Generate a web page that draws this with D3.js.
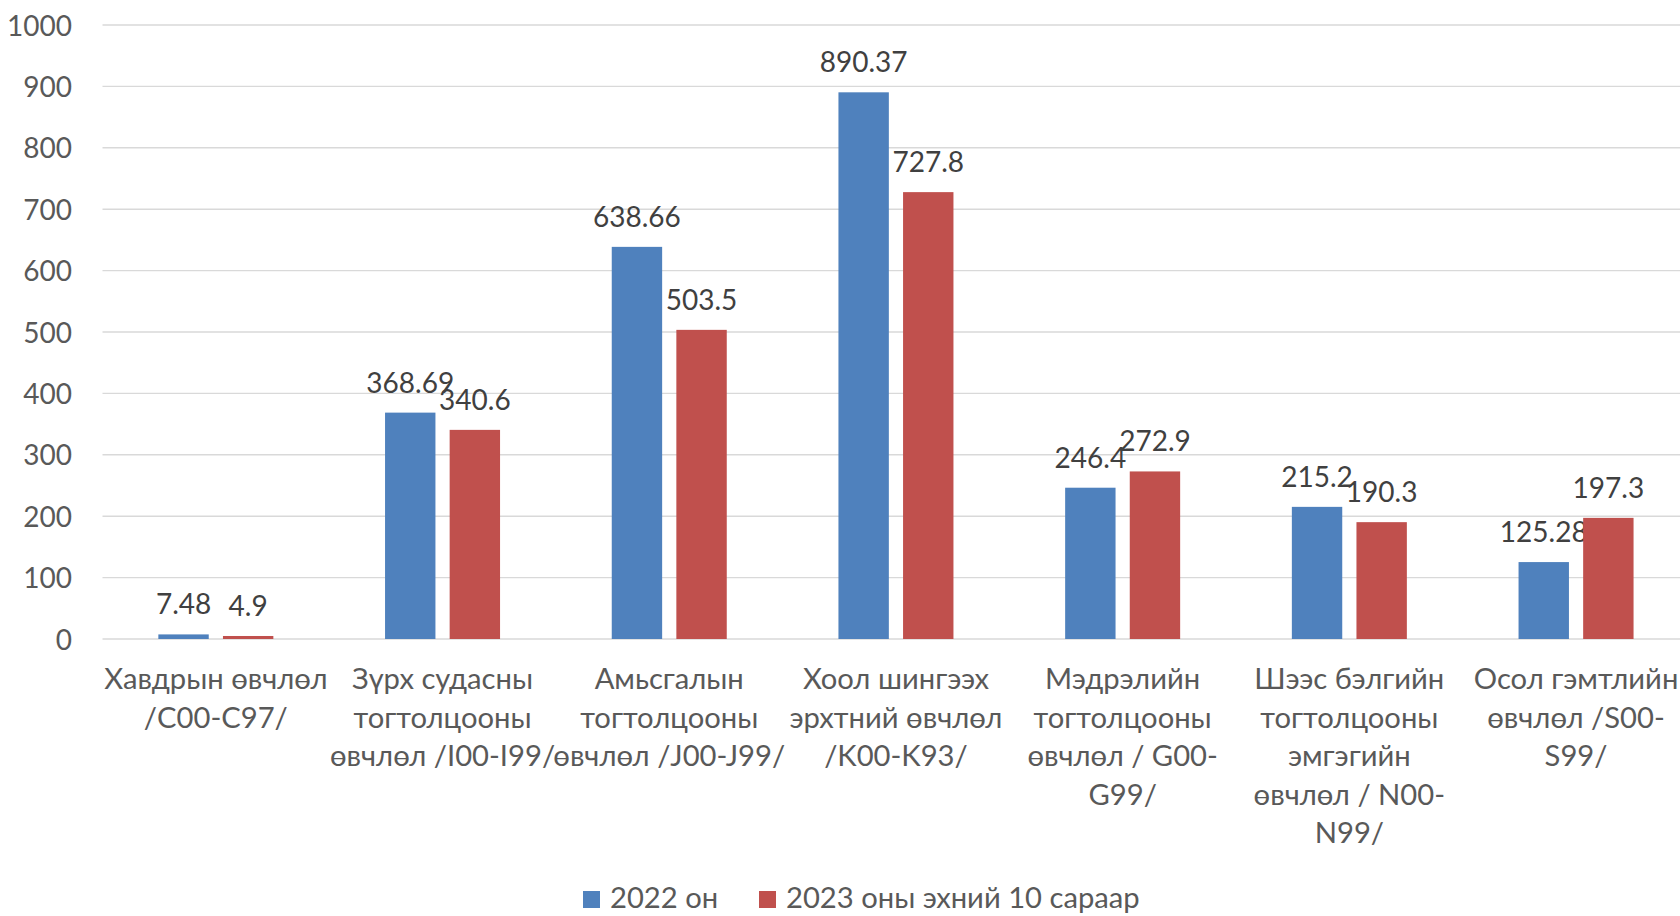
<!DOCTYPE html>
<html>
<head>
<meta charset="utf-8">
<script src="https://cdn.jsdelivr.net/npm/d3@7"></script>
<style>
  html, body { margin: 0; padding: 0; background: #fff; }
  svg { display: block; font-family: Lato, "Open Sans", sans-serif; }
</style>
</head>
<body>
<svg id="chart" width="1680" height="916"></svg>
<script>
// category labels, already broken into lines the way the original wraps them
const categories = [
    "Хавдрын өвчлөл\n/C00-C97/",
    "Зүрх судасны\nтогтолцооны\nөвчлөл /I00-I99/",
    "Амьсгалын\nтогтолцооны\nөвчлөл /J00-J99/",
    "Хоол шингээх\nэрхтний өвчлөл\n/K00-K93/",
    "Мэдрэлийн\nтогтолцооны\nөвчлөл / G00-\nG99/",
    "Шээс бэлгийн\nтогтолцооны\nэмгэгийн\nөвчлөл / N00-\nN99/",
    "Осол гэмтлийн\nөвчлөл /S00-\nS99/"
]
const seriesNames = ["2022 он", "2023 оны эхний 10 сараар"]
const values2022 = [7.48, 368.69, 638.66, 890.37, 246.4, 215.2, 125.28]
const values2023 = [4.9, 340.6, 503.5, 727.8, 272.9, 190.3, 197.3]
const yTicks = [0, 100, 200, 300, 400, 500, 600, 700, 800, 900, 1000]
const colors = ["#4F81BD", "#C0504D"]

const svg = d3.select("#chart")
const width = 1680

// plot area runs a little past the right edge, as in the original
const left = 102.5, step = 226.7
const x0 = d3.scaleBand()
    .domain(categories)
    .range([left, left + step * categories.length])
    .paddingInner(0.4927)
    .paddingOuter(0.4927 / 2)
const x1 = d3.scaleBand()
    .domain(seriesNames)
    .range([0, x0.bandwidth()])
    .paddingInner(0.22)
const y = d3.scaleLinear().domain([0, 1000]).range([639, 25])

// gridlines
svg.append("g")
    .selectAll("line")
    .data(yTicks)
    .join("line")
    .attr("x1", left)
    .attr("x2", width)
    .attr("y1", d => y(d))
    .attr("y2", d => y(d))
    .attr("stroke", "#d9d9d9")
    .attr("stroke-width", 1.4)

// y axis labels
const yAxis = svg.append("g")
    .attr("transform", "translate(72,0)")
    .call(d3.axisLeft(y).tickValues(yTicks).tickSize(0).tickPadding(0).tickFormat(d3.format("d")))
yAxis.select(".domain").remove()
yAxis.selectAll("text")
    .attr("font-family", "Lato, 'Open Sans', sans-serif")
    .attr("font-size", 28)
    .attr("fill", "#595959")
    .attr("dy", "0.36em")

const rows = categories.map((c, i) => ({
    cat: c,
    vals: [values2022[i], values2023[i]]
}))

// bars
const groups = svg.append("g")
    .selectAll("g")
    .data(rows)
    .join("g")
    .attr("transform", d => `translate(${x0(d.cat)},0)`)

const bar = groups.selectAll("g")
    .data(d => d.vals.map((v, k) => ({ key: seriesNames[k], v, k })))
    .join("g")

bar.append("rect")
    .attr("x", d => x1(d.key))
    .attr("width", x1.bandwidth())
    .attr("y", d => y(d.v))
    .attr("height", d => y(0) - y(d.v))
    .attr("fill", d => colors[d.k])

// data labels (they touch in the original too)
bar.append("text")
    .attr("x", d => x1(d.key) + x1.bandwidth() / 2)
    .attr("y", d => y(d.v) - 20)
    .attr("text-anchor", "middle")
    .attr("font-size", 28)
    .attr("fill", "#404040")
    .text(d => d.v)

// category labels
const catLabel = svg.append("g")
    .selectAll("text")
    .data(categories)
    .join("text")
    .attr("x", d => x0(d) + x0.bandwidth() / 2)
    .attr("y", 689)
    .attr("text-anchor", "middle")
    .attr("font-size", 29.2)
    .attr("fill", "#595959")
catLabel.selectAll("tspan")
    .data(d => d.split("\n"))
    .join("tspan")
    .attr("x", function () { return this.parentNode.getAttribute("x") })
    .attr("dy", (d, i) => i === 0 ? 0 : 38.6)
    .text(d => d)

// legend
const legendX = [583, 759]
const legend = svg.append("g")
    .selectAll("g")
    .data(seriesNames)
    .join("g")
    .attr("transform", (d, i) => `translate(${legendX[i]},891)`)
legend.append("rect")
    .attr("width", 17)
    .attr("height", 17)
    .attr("fill", (d, i) => colors[i])
legend.append("text")
    .attr("x", 27)
    .attr("y", 17)
    .attr("font-size", 29.2)
    .attr("fill", "#595959")
    .text(d => d)
</script>
</body>
</html>
